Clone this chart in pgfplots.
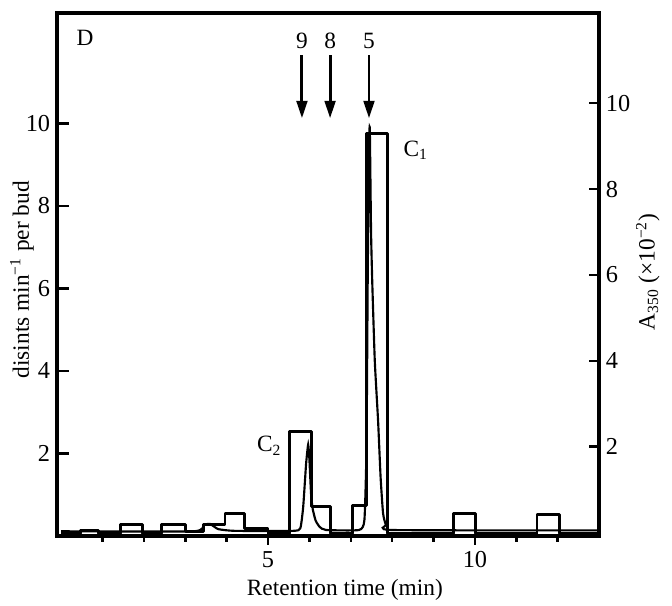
\documentclass[border=0pt]{standalone}
\usepackage{fontspec}
\setmainfont{Liberation Serif}
\usepackage{pgfplots}
\pgfplotsset{compat=1.18}
\usetikzlibrary{arrows.meta}

\pgfplotsset{
  base/.style={
    at={(0,0)},anchor=south west,
    width=278.6pt,height=268.8pt,scale only axis,
    xmin=-0.1,xmax=13,
    clip=false,
    tick label style={font=\fontsize{12.5}{14}\selectfont},
    /pgf/number format/assume math mode=true,
    axis line style={line width=1.6pt},
    major tick style={line width=1.3pt,black},
    minor tick style={line width=1.3pt,black},
  },
}
\tikzset{arr/.style={line width=1.5pt,-{Triangle[length=9pt,width=5.5pt]}}}

\begin{document}
\begin{tikzpicture}
% left axis: radioactivity histogram
\begin{axis}[base,
  ymin=0,ymax=12.67,
  xtick=\empty,
  ytick={2,4,6,8,10},ytick pos=left,
  major tick length=6pt,
]
\addplot[black,line width=1.5pt,line join=round] coordinates {
 (0,0.06)(0.46,0.06)(0.46,0.13)(0.9,0.13)(0.9,0.06)
 (1.43,0.06)(1.43,0.27)(1.96,0.27)(1.96,0.06)
 (2.43,0.06)(2.43,0.27)(3.01,0.27)(3.01,0.12)
 (3.44,0.12)(3.44,0.28)(3.96,0.28)(3.96,0.54)(4.44,0.54)(4.44,0.18)
 (5.0,0.18)(5.0,0.06)(5.51,0.06)(5.51,2.54)(6.06,2.54)(6.06,0.72)
 (6.5,0.72)(6.5,0.06)(7.05,0.06)(7.05,0.74)(7.38,0.74)(7.38,9.76)
 (7.89,9.76)(7.89,0.06)(9.48,0.06)(9.48,0.54)(10.02,0.54)(10.02,0.06)
 (11.5,0.06)(11.5,0.51)(12.04,0.51)(12.04,0.06)(13,0.06)
};
\end{axis}
% right axis: A350 trace
\begin{axis}[base,
  axis x line=none,axis y line*=right,
  ymin=-0.08,ymax=12.1,
  xtick=\empty,
  ytick={2,4,6,8,10},
  major tick length=5pt,
]
\addplot[black,line width=1.1pt,smooth,tension=0.3] coordinates {
 (0,0.03)(3.2,0.03)(3.45,0.18)(3.6,0.2)(3.8,0.08)(4.2,0.04)
 (5.6,0.04)(5.78,0.1)(5.85,0.6)(5.92,1.6)(5.97,2.05)(6.0,1.7)
 (6.04,0.9)(6.08,0.55)(6.15,0.28)(6.25,0.13)(6.4,0.06)
 (7.2,0.06)(7.33,0.3)(7.38,2)(7.41,6)(7.44,9.0)(7.46,9.4)
 (7.49,7.0)(7.52,5.8)(7.58,4.0)(7.66,2.6)(7.72,1.3)(7.78,0.45)
 (7.85,0.18)(8.0,0.06)(13,0.05)
};
\end{axis}
% bottom axis: x ticks, labels and annotations
\begin{axis}[base,
  axis y line=none,axis x line*=bottom,
  ymin=0,ymax=12.67,
  xtick={5,10},
  minor xtick={1,2,3,4,6,7,8,9,11,12},
  tick align=outside,
  major tick length=4.5pt,minor tick length=3pt,
]
\node[font=\fontsize{12}{14}\selectfont] at (rel axis cs:0.531,-0.103) {Retention time (min)};
\node[font=\fontsize{12}{14}\selectfont,rotate=90] at (rel axis cs:-0.0646,0.49) {disints min\textsuperscript{−1} per bud};
\node[font=\fontsize{12}{14}\selectfont,rotate=90] at (rel axis cs:1.090,0.505) {A\textsubscript{350} (×10\textsuperscript{−2})};
\node[font=\fontsize{12}{14}\selectfont] at (axis cs:0.58,12.08) {D};
\node[font=\fontsize{12}{14}\selectfont] at (axis cs:8.57,9.35) {C\textsubscript{1}};
\node[font=\fontsize{12}{14}\selectfont] at (axis cs:5.03,2.19) {C\textsubscript{2}};
\node[font=\fontsize{12}{14}\selectfont] at (axis cs:5.82,11.99) {9};
\node[font=\fontsize{12}{14}\selectfont] at (axis cs:6.50,11.99) {8};
\node[font=\fontsize{12}{14}\selectfont] at (axis cs:7.44,11.99) {5};
\draw[arr] (axis cs:5.82,11.65) -- (axis cs:5.82,10.12);
\draw[arr] (axis cs:6.50,11.65) -- (axis cs:6.50,10.12);
\draw[arr] (axis cs:7.44,11.65) -- (axis cs:7.44,10.12);
\end{axis}
\pgfresetboundingbox
\path (-29.3pt,-35.5pt) rectangle (316.1pt,275.5pt);
\end{tikzpicture}
\end{document}
